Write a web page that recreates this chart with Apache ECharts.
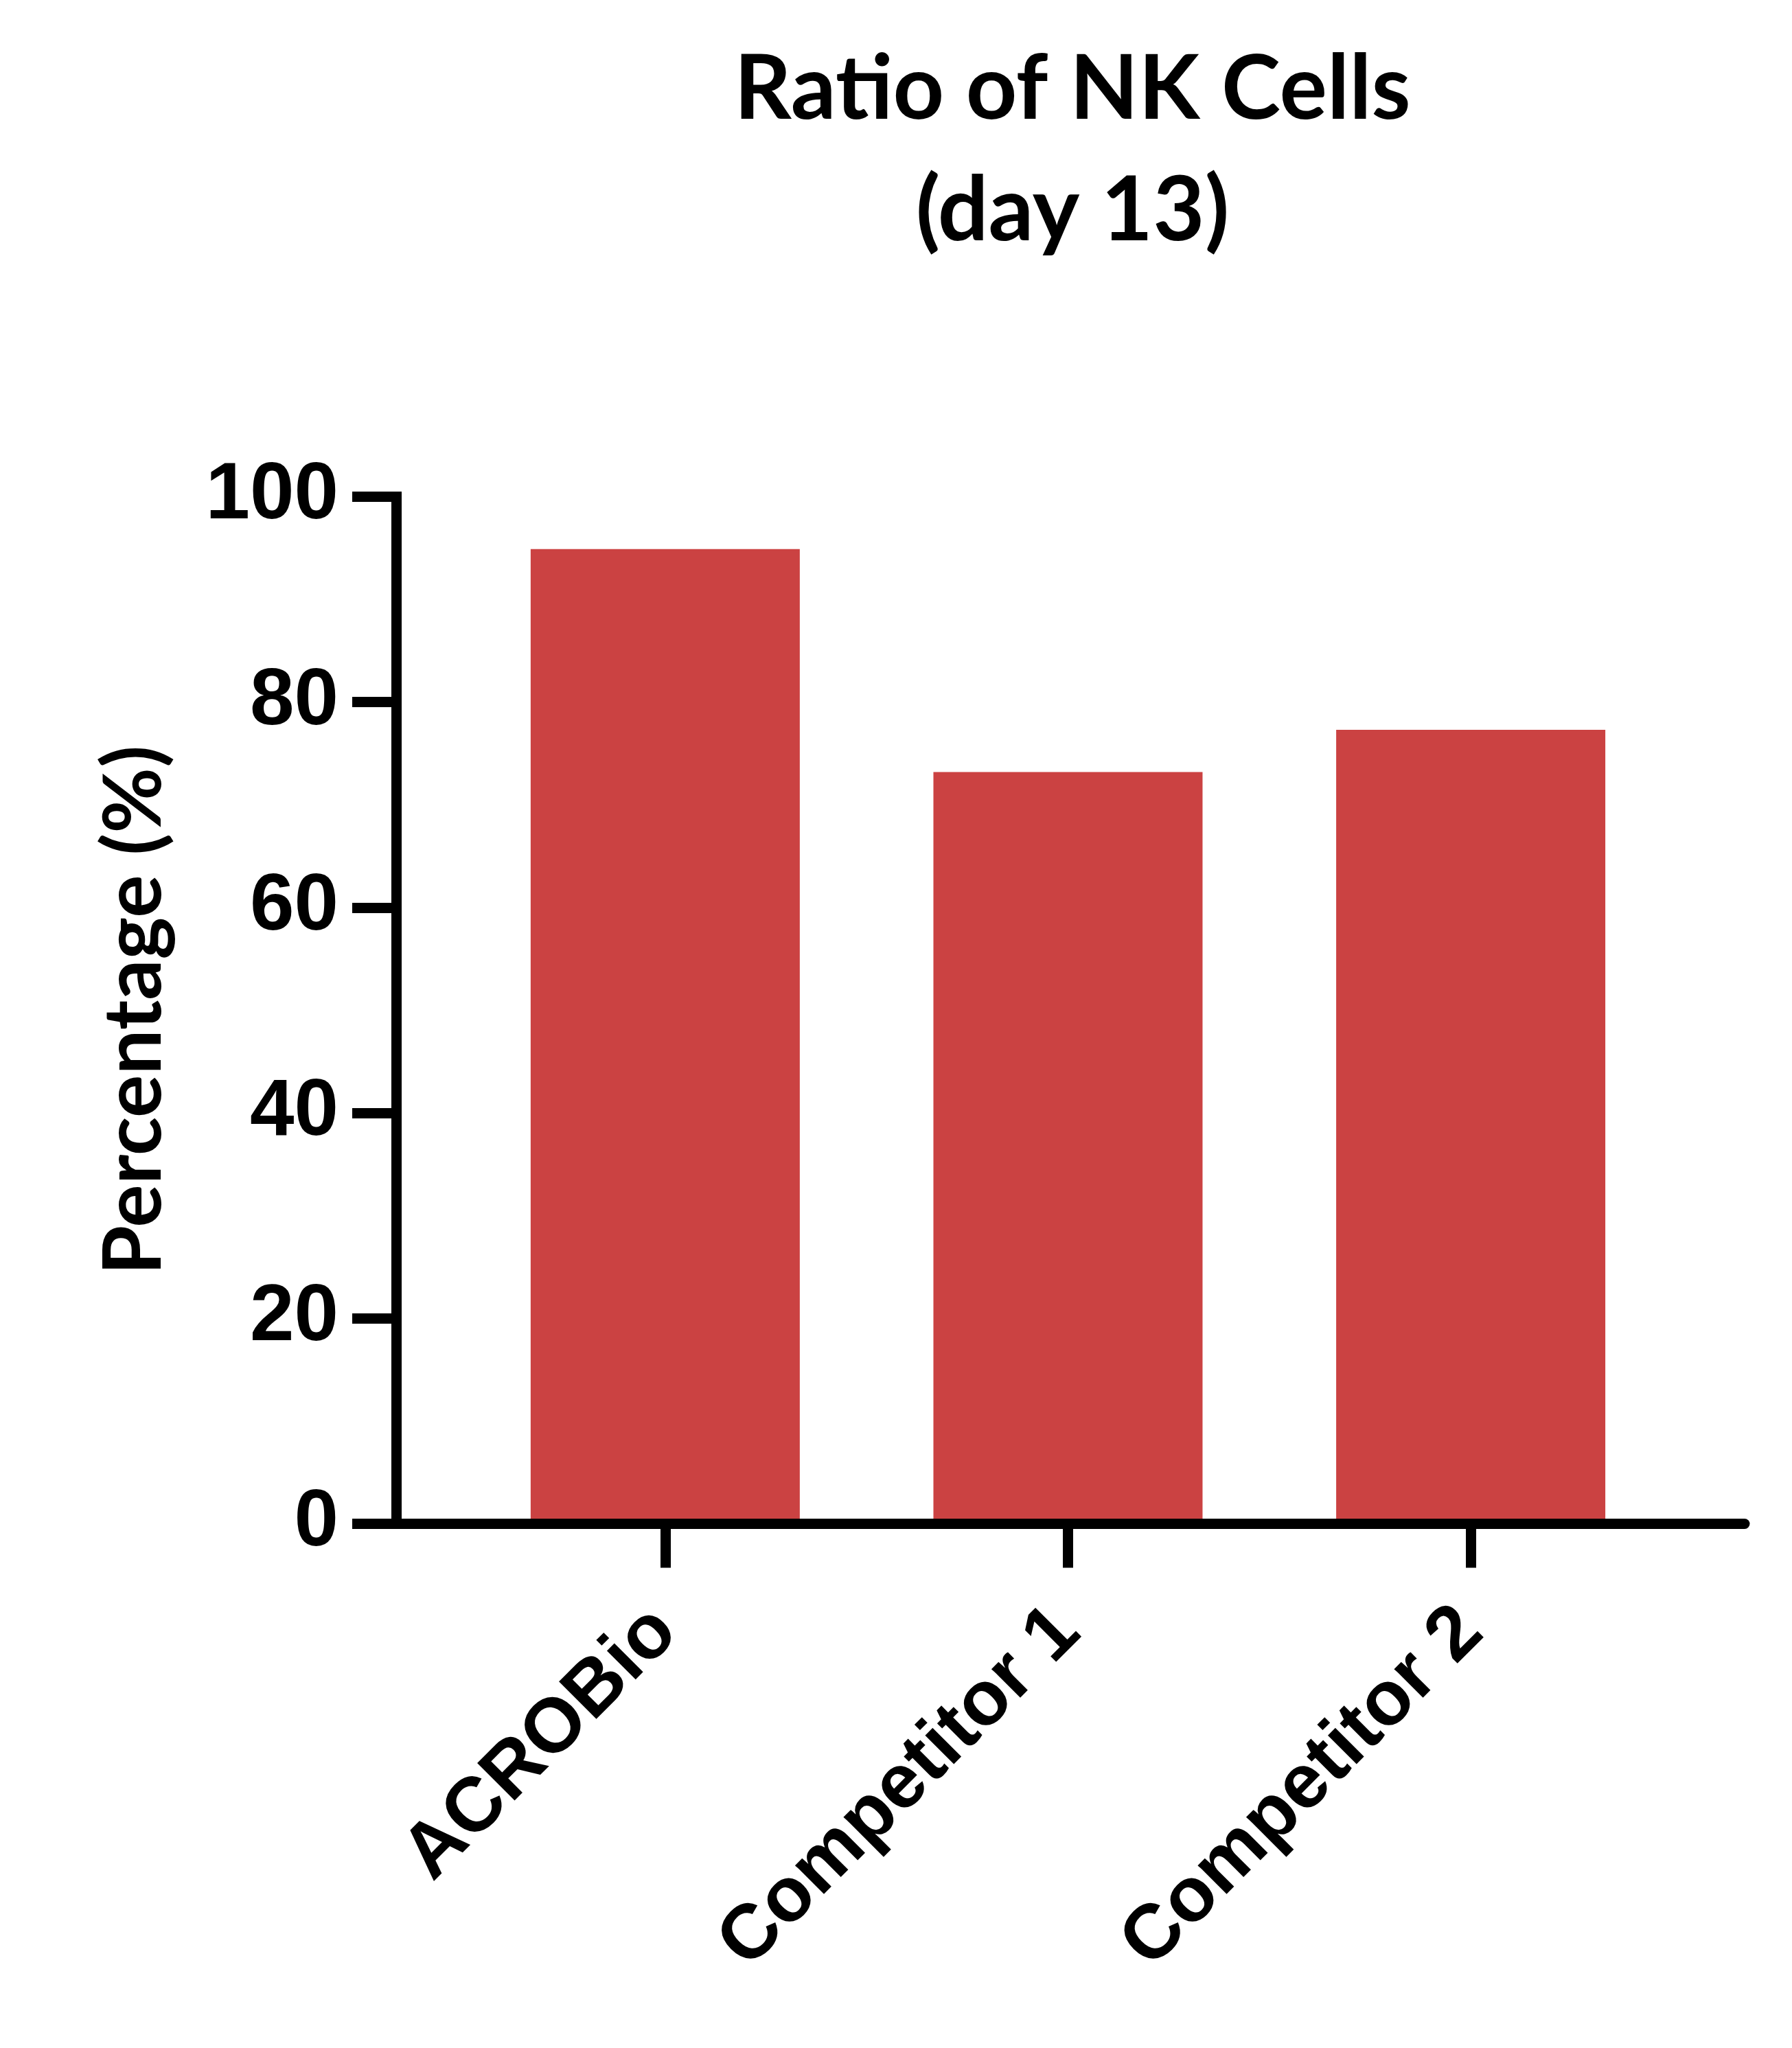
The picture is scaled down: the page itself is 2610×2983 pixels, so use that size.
<!DOCTYPE html>
<html>
<head>
<meta charset="utf-8">
<script src="https://cdn.jsdelivr.net/npm/echarts@6/dist/echarts.min.js"></script>
<style>
html,body{margin:0;padding:0;background:#fff;}
#chart{width:2610px;height:2983px;}
</style>
</head>
<body>
<div id="chart"></div>
<script>
const categories = ['ACROBio', 'Competitor 1', 'Competitor 2'];
const values = [94.9, 73.2, 77.3];
const yTicks = [0, 20, 40, 60, 80, 100];
const titleLines = ['Ratio of NK Cells', '(day 13)'];
const yAxisTitle = 'Percentage (%)';

const chart = echarts.init(document.getElementById('chart'), null, {renderer: 'canvas'});
const catIdx = categories.map((c, i) => i);
const option = {
  backgroundColor: '#ffffff',
  animation: false,
  title: {
    text: titleLines.join('\n'),
    left: 1557,
    top: 38,
    textAlign: 'center',
    textStyle: {
      fontFamily: 'Lato',
      fontWeight: 'bold',
      fontSize: 130,
      lineHeight: 177,
      color: '#000'
    }
  },
  grid: {
    left: 577,
    right: 69,
    top: 723.5,
    bottom: 763.5,
    containLabel: false
  },
  xAxis: {
    type: 'value',
    min: -0.668,
    max: 2.680,
    z: 5,
    axisLine: {show: true, onZero: true, lineStyle: {color: '#000', width: 15}},
    axisTick: {show: true, customValues: catIdx, length: 64, lineStyle: {color: '#000', width: 15}},
    axisLabel: {
      show: true,
      customValues: catIdx,
      formatter: v => categories[Math.round(v)] || '',
      rotate: 45,
      margin: 140,
      fontFamily: 'Liberation Sans',
      fontWeight: 'bold',
      fontSize: 112,
      color: '#000'
    },
    splitLine: {show: false}
  },
  yAxis: {
    type: 'value',
    min: 0,
    max: 100,
    interval: 20,
    z: 5,
    name: yAxisTitle,
    nameLocation: 'middle',
    nameRotate: 90,
    nameGap: 322,
    nameTextStyle: {
      fontFamily: 'Lato',
      fontWeight: 'bold',
      fontSize: 117,
      color: '#000'
    },
    axisLine: {show: true, onZero: false, lineStyle: {color: '#000', width: 15, cap: 'square'}},
    axisTick: {show: true, length: 64, lineStyle: {color: '#000', width: 15}},
    axisLabel: {
      show: true,
      margin: 84,
      customValues: yTicks,
      fontFamily: 'Liberation Sans',
      fontWeight: 'bold',
      fontSize: 116,
      color: '#000'
    },
    splitLine: {show: false}
  },
  series: [{
    type: 'bar',
    data: values.map((v, i) => [catIdx[i], v]),
    barWidth: 392,
    itemStyle: {color: '#CB4242'},
    z: 2
  }]
};
chart.setOption(option);
</script>
</body>
</html>
